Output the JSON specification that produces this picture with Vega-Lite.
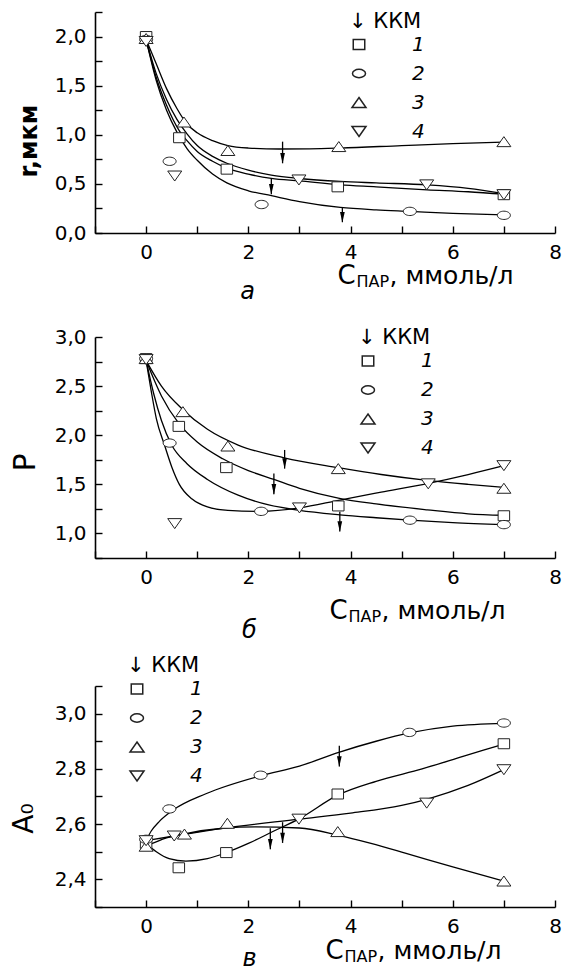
{
  "$schema": "https://vega.github.io/schema/vega-lite/v6.json",
  "padding": {"left": 10, "top": 10, "right": 5, "bottom": 0},
  "datasets": {
    "pts": [
      {"p":"a","s":"1","x":0,"y":2.0},{"p":"a","s":"1","x":0.65,"y":0.97},{"p":"a","s":"1","x":1.58,"y":0.65},{"p":"a","s":"1","x":3.75,"y":0.47},{"p":"a","s":"1","x":7,"y":0.39},
      {"p":"a","s":"2","x":0,"y":1.97},{"p":"a","s":"2","x":0.46,"y":0.73},{"p":"a","s":"2","x":2.26,"y":0.29},{"p":"a","s":"2","x":5.16,"y":0.22},{"p":"a","s":"2","x":7,"y":0.18},
      {"p":"a","s":"3","x":0,"y":1.98},{"p":"a","s":"3","x":0.74,"y":1.13},{"p":"a","s":"3","x":1.6,"y":0.84},{"p":"a","s":"3","x":3.77,"y":0.88},{"p":"a","s":"3","x":7,"y":0.93},
      {"p":"a","s":"4","x":0,"y":1.95},{"p":"a","s":"4","x":0.56,"y":0.58},{"p":"a","s":"4","x":2.99,"y":0.54},{"p":"a","s":"4","x":5.49,"y":0.49},{"p":"a","s":"4","x":7,"y":0.39},
      {"p":"b","s":"1","x":0,"y":2.78},{"p":"b","s":"1","x":0.64,"y":2.09},{"p":"b","s":"1","x":1.57,"y":1.67},{"p":"b","s":"1","x":3.76,"y":1.28},{"p":"b","s":"1","x":7,"y":1.18},
      {"p":"b","s":"2","x":0,"y":2.78},{"p":"b","s":"2","x":0.46,"y":1.92},{"p":"b","s":"2","x":2.25,"y":1.225},{"p":"b","s":"2","x":5.16,"y":1.135},{"p":"b","s":"2","x":7,"y":1.09},
      {"p":"b","s":"3","x":0,"y":2.78},{"p":"b","s":"3","x":0.72,"y":2.24},{"p":"b","s":"3","x":1.6,"y":1.89},{"p":"b","s":"3","x":3.76,"y":1.66},{"p":"b","s":"3","x":7,"y":1.46},
      {"p":"b","s":"4","x":0,"y":2.77},{"p":"b","s":"4","x":0.56,"y":1.1},{"p":"b","s":"4","x":3.0,"y":1.26},{"p":"b","s":"4","x":5.52,"y":1.505},{"p":"b","s":"4","x":7,"y":1.69},
      {"p":"c","s":"1","x":0,"y":2.53},{"p":"c","s":"1","x":0.64,"y":2.442},{"p":"c","s":"1","x":1.57,"y":2.497},{"p":"c","s":"1","x":3.75,"y":2.709},{"p":"c","s":"1","x":7,"y":2.891},
      {"p":"c","s":"2","x":0,"y":2.545},{"p":"c","s":"2","x":0.455,"y":2.655},{"p":"c","s":"2","x":2.24,"y":2.777},{"p":"c","s":"2","x":5.15,"y":2.932},{"p":"c","s":"2","x":7,"y":2.966},
      {"p":"c","s":"3","x":0,"y":2.52},{"p":"c","s":"3","x":0.75,"y":2.564},{"p":"c","s":"3","x":1.59,"y":2.603},{"p":"c","s":"3","x":3.75,"y":2.573},{"p":"c","s":"3","x":7,"y":2.394},
      {"p":"c","s":"4","x":0,"y":2.54},{"p":"c","s":"4","x":0.55,"y":2.557},{"p":"c","s":"4","x":2.99,"y":2.618},{"p":"c","s":"4","x":5.49,"y":2.676},{"p":"c","s":"4","x":7,"y":2.797}
    ],
    "fit": [
      {"p":"a","s":"3","x":0,"y":1.97},{"p":"a","s":"3","x":0.2,"y":1.72},{"p":"a","s":"3","x":0.4,"y":1.47},{"p":"a","s":"3","x":0.6,"y":1.27},{"p":"a","s":"3","x":0.8,"y":1.11},{"p":"a","s":"3","x":1.0,"y":1.02},{"p":"a","s":"3","x":1.3,"y":0.94},{"p":"a","s":"3","x":1.6,"y":0.89},{"p":"a","s":"3","x":2.0,"y":0.865},{"p":"a","s":"3","x":2.6,"y":0.855},{"p":"a","s":"3","x":3.2,"y":0.857},{"p":"a","s":"3","x":3.8,"y":0.865},{"p":"a","s":"3","x":5.0,"y":0.89},{"p":"a","s":"3","x":6.0,"y":0.91},{"p":"a","s":"3","x":7.0,"y":0.925},
      {"p":"a","s":"4","x":0,"y":1.97},{"p":"a","s":"4","x":0.2,"y":1.62},{"p":"a","s":"4","x":0.4,"y":1.36},{"p":"a","s":"4","x":0.6,"y":1.16},{"p":"a","s":"4","x":0.8,"y":1.01},{"p":"a","s":"4","x":1.0,"y":0.89},{"p":"a","s":"4","x":1.3,"y":0.78},{"p":"a","s":"4","x":1.58,"y":0.71},{"p":"a","s":"4","x":2.0,"y":0.64},{"p":"a","s":"4","x":2.45,"y":0.59},{"p":"a","s":"4","x":3.0,"y":0.555},{"p":"a","s":"4","x":3.8,"y":0.525},{"p":"a","s":"4","x":4.5,"y":0.51},{"p":"a","s":"4","x":5.5,"y":0.49},{"p":"a","s":"4","x":6.3,"y":0.455},{"p":"a","s":"4","x":7.0,"y":0.4},
      {"p":"a","s":"1","x":0,"y":1.97},{"p":"a","s":"1","x":0.2,"y":1.58},{"p":"a","s":"1","x":0.4,"y":1.3},{"p":"a","s":"1","x":0.65,"y":1.04},{"p":"a","s":"1","x":0.8,"y":0.94},{"p":"a","s":"1","x":1.0,"y":0.83},{"p":"a","s":"1","x":1.3,"y":0.73},{"p":"a","s":"1","x":1.58,"y":0.66},{"p":"a","s":"1","x":2.0,"y":0.6},{"p":"a","s":"1","x":2.45,"y":0.556},{"p":"a","s":"1","x":3.0,"y":0.53},{"p":"a","s":"1","x":3.8,"y":0.49},{"p":"a","s":"1","x":4.5,"y":0.47},{"p":"a","s":"1","x":5.5,"y":0.44},{"p":"a","s":"1","x":6.3,"y":0.42},{"p":"a","s":"1","x":7.0,"y":0.395},
      {"p":"a","s":"2","x":0,"y":1.97},{"p":"a","s":"2","x":0.2,"y":1.55},{"p":"a","s":"2","x":0.4,"y":1.25},{"p":"a","s":"2","x":0.6,"y":1.03},{"p":"a","s":"2","x":0.8,"y":0.86},{"p":"a","s":"2","x":1.0,"y":0.74},{"p":"a","s":"2","x":1.3,"y":0.6},{"p":"a","s":"2","x":1.58,"y":0.51},{"p":"a","s":"2","x":2.0,"y":0.43},{"p":"a","s":"2","x":2.45,"y":0.38},{"p":"a","s":"2","x":3.0,"y":0.32},{"p":"a","s":"2","x":3.8,"y":0.26},{"p":"a","s":"2","x":4.5,"y":0.235},{"p":"a","s":"2","x":5.16,"y":0.22},{"p":"a","s":"2","x":6.0,"y":0.2},{"p":"a","s":"2","x":7.0,"y":0.185},
      {"p":"b","s":"3","x":0,"y":2.76},{"p":"b","s":"3","x":0.3,"y":2.5},{"p":"b","s":"3","x":0.72,"y":2.26},{"p":"b","s":"3","x":1.2,"y":2.06},{"p":"b","s":"3","x":1.8,"y":1.9},{"p":"b","s":"3","x":2.7,"y":1.77},{"p":"b","s":"3","x":3.76,"y":1.67},{"p":"b","s":"3","x":4.6,"y":1.6},{"p":"b","s":"3","x":5.5,"y":1.54},{"p":"b","s":"3","x":6.3,"y":1.5},{"p":"b","s":"3","x":7.0,"y":1.47},
      {"p":"b","s":"1","x":0,"y":2.76},{"p":"b","s":"1","x":0.3,"y":2.4},{"p":"b","s":"1","x":0.64,"y":2.12},{"p":"b","s":"1","x":1.0,"y":1.93},{"p":"b","s":"1","x":1.5,"y":1.76},{"p":"b","s":"1","x":2.0,"y":1.64},{"p":"b","s":"1","x":2.5,"y":1.55},{"p":"b","s":"1","x":3.0,"y":1.46},{"p":"b","s":"1","x":3.76,"y":1.36},{"p":"b","s":"1","x":4.5,"y":1.3},{"p":"b","s":"1","x":5.5,"y":1.24},{"p":"b","s":"1","x":6.3,"y":1.2},{"p":"b","s":"1","x":7.0,"y":1.185},
      {"p":"b","s":"2","x":0,"y":2.76},{"p":"b","s":"2","x":0.15,"y":2.42},{"p":"b","s":"2","x":0.3,"y":2.15},{"p":"b","s":"2","x":0.5,"y":1.9},{"p":"b","s":"2","x":0.8,"y":1.71},{"p":"b","s":"2","x":1.2,"y":1.55},{"p":"b","s":"2","x":1.8,"y":1.39},{"p":"b","s":"2","x":2.4,"y":1.29},{"p":"b","s":"2","x":3.0,"y":1.235},{"p":"b","s":"2","x":3.79,"y":1.19},{"p":"b","s":"2","x":4.5,"y":1.16},{"p":"b","s":"2","x":5.16,"y":1.135},{"p":"b","s":"2","x":6.0,"y":1.11},{"p":"b","s":"2","x":7.0,"y":1.09},
      {"p":"b","s":"4","x":0,"y":2.76},{"p":"b","s":"4","x":0.1,"y":2.45},{"p":"b","s":"4","x":0.2,"y":2.17},{"p":"b","s":"4","x":0.36,"y":1.9},{"p":"b","s":"4","x":0.5,"y":1.68},{"p":"b","s":"4","x":0.65,"y":1.5},{"p":"b","s":"4","x":0.9,"y":1.35},{"p":"b","s":"4","x":1.2,"y":1.27},{"p":"b","s":"4","x":1.6,"y":1.235},{"p":"b","s":"4","x":2.25,"y":1.225},{"p":"b","s":"4","x":3.0,"y":1.26},{"p":"b","s":"4","x":3.79,"y":1.34},{"p":"b","s":"4","x":4.6,"y":1.42},{"p":"b","s":"4","x":5.52,"y":1.51},{"p":"b","s":"4","x":6.3,"y":1.6},{"p":"b","s":"4","x":7.0,"y":1.69},
      {"p":"c","s":"1","x":0,"y":2.53},{"p":"c","s":"1","x":0.2,"y":2.5},{"p":"c","s":"1","x":0.45,"y":2.475},{"p":"c","s":"1","x":0.78,"y":2.466},{"p":"c","s":"1","x":1.2,"y":2.475},{"p":"c","s":"1","x":1.57,"y":2.497},{"p":"c","s":"1","x":2.0,"y":2.53},{"p":"c","s":"1","x":2.5,"y":2.575},{"p":"c","s":"1","x":3.0,"y":2.62},{"p":"c","s":"1","x":3.75,"y":2.705},{"p":"c","s":"1","x":4.5,"y":2.755},{"p":"c","s":"1","x":5.4,"y":2.8},{"p":"c","s":"1","x":6.2,"y":2.845},{"p":"c","s":"1","x":7.0,"y":2.89},
      {"p":"c","s":"2","x":0,"y":2.54},{"p":"c","s":"2","x":0.1,"y":2.575},{"p":"c","s":"2","x":0.26,"y":2.61},{"p":"c","s":"2","x":0.52,"y":2.65},{"p":"c","s":"2","x":1.17,"y":2.71},{"p":"c","s":"2","x":2.24,"y":2.775},{"p":"c","s":"2","x":3.0,"y":2.81},{"p":"c","s":"2","x":3.77,"y":2.86},{"p":"c","s":"2","x":4.5,"y":2.9},{"p":"c","s":"2","x":5.15,"y":2.93},{"p":"c","s":"2","x":6.0,"y":2.955},{"p":"c","s":"2","x":7.0,"y":2.965},
      {"p":"c","s":"3","x":0,"y":2.52},{"p":"c","s":"3","x":0.4,"y":2.55},{"p":"c","s":"3","x":0.75,"y":2.565},{"p":"c","s":"3","x":1.5,"y":2.585},{"p":"c","s":"3","x":2.14,"y":2.59},{"p":"c","s":"3","x":3.0,"y":2.586},{"p":"c","s":"3","x":3.75,"y":2.56},{"p":"c","s":"3","x":4.4,"y":2.53},{"p":"c","s":"3","x":5.07,"y":2.495},{"p":"c","s":"3","x":6.0,"y":2.445},{"p":"c","s":"3","x":7.0,"y":2.394},
      {"p":"c","s":"4","x":0,"y":2.54},{"p":"c","s":"4","x":0.55,"y":2.557},{"p":"c","s":"4","x":1.5,"y":2.585},{"p":"c","s":"4","x":2.99,"y":2.618},{"p":"c","s":"4","x":4.0,"y":2.64},{"p":"c","s":"4","x":5.0,"y":2.668},{"p":"c","s":"4","x":5.49,"y":2.69},{"p":"c","s":"4","x":6.3,"y":2.74},{"p":"c","s":"4","x":7.0,"y":2.797}
    ],
    "kkm": [
      {"p":"a","x":2.67,"y":0.93,"y2":0.71},{"p":"a","x":2.45,"y":0.556,"y2":0.394},{"p":"a","x":3.84,"y":0.254,"y2":0.11},
      {"p":"b","x":2.71,"y":1.85,"y2":1.66},{"p":"b","x":2.5,"y":1.61,"y2":1.4},{"p":"b","x":3.79,"y":1.22,"y2":1.02},
      {"p":"c","x":2.43,"y":2.585,"y2":2.509},{"p":"c","x":2.67,"y":2.607,"y2":2.532},{"p":"c","x":3.78,"y":2.884,"y2":2.809}
    ]
  },
  "resolve": {"scale": {"shape": "independent"}, "legend": {"shape": "independent"}},
  "vconcat": [
    {
      "spacing": 104,
      "bounds": "flush",
      "resolve": {"scale": {"shape": "independent"}, "legend": {"shape": "independent"}},
      "vconcat": [
        {
          "width": 460, "height": 221,
          "resolve": {"axis": {"x": "independent"}},
          "layer": [
            {
              "data": {"name": "fit"}, "transform": [{"filter": "datum.p == 'a'"}],
              "mark": {"type": "line", "interpolate": "monotone", "color": "black", "strokeWidth": 1.3},
              "encoding": {
                "x": {"field": "x", "type": "quantitative", "scale": {"domain": [-1, 8], "nice": false},
                  "axis": {"orient": "bottom", "values": [-1,0,1,2,3,4,5,6,7,8], "format": "d", "labelFlush": false, "labelExpr": "datum.value >= 0 && datum.value % 2 == 0 ? datum.label : ''", "title": "C", "titleFontSize": 26, "titleX": 242, "titleY": 50.5, "titleAlign": "left", "titleBaseline": "alphabetic"}},
                "y": {"field": "y", "type": "quantitative", "scale": {"domain": [0, 2.25], "nice": false, "zero": false},
                  "axis": {"values": [0,0.25,0.5,0.75,1,1.25,1.5,1.75,2,2.25], "labelExpr": "round(datum.value*100) % 50 == 0 ? replace(format(datum.value, '.1f'), '.', ',') : ''", "title": "r,мкм", "titleFontWeight": "bold", "titleFontSize": 24, "titleX": -59, "titleY": 128.5, "titleBaseline": "alphabetic"}},
                "detail": {"field": "s"}
              }
            },
            {
              "data": {"name": "pts"}, "transform": [{"filter": "datum.p == 'a'"}],
              "mark": {"type": "point", "filled": true, "fill": "white", "stroke": "#222", "strokeWidth": 1, "size": 100, "opacity": 1},
              "encoding": {
                "x": {"field": "x", "type": "quantitative", "scale": {"domain": [-1, 8], "nice": false},
                  "axis": {"orient": "bottom", "domain": false, "ticks": false, "labels": false, "title": "ПАР", "titleFontSize": 16, "titleX": 261, "titleY": 53.5, "titleAlign": "left", "titleBaseline": "alphabetic"}},
                "y": {"field": "y", "type": "quantitative", "scale": {"domain": [0, 2.25], "nice": false, "zero": false},
                  "axis": {"values": [0,0.25,0.5,0.75,1,1.25,1.5,1.75,2,2.25], "labelExpr": "round(datum.value*100) % 50 == 0 ? replace(format(datum.value, '.1f'), '.', ',') : ''", "title": "r,мкм", "titleFontWeight": "bold", "titleFontSize": 24, "titleX": -59, "titleY": 128.5, "titleBaseline": "alphabetic"}},
                "shape": {"field": "s", "type": "nominal",
                  "scale": {"domain": ["1","2","3","4"], "range": ["M-1.15,-1H1.15V1H-1.15Z", "M1.3,0A1.3,0.83,0,1,1,-1.3,0A1.3,0.83,0,1,1,1.3,0Z", "M0,-1L1.4,1L-1.4,1Z", "M0,1L1.4,-1L-1.4,-1Z"]},
                  "legend": {"legendX": 254, "legendY": -1.5, "title": "↓ ККМ",
                    "encode": {"symbols": {"shape": {"value": {"expr": "datum.value == '1' ? 'M-6,0H-1.75M1.75,0H6M-1.15,-1H1.15V1H-1.15Z' : datum.value == '2' ? 'M-6,0H-1.9M1.9,0H6M1.3,0A1.3,0.83,0,1,1,-1.3,0A1.3,0.83,0,1,1,1.3,0Z' : datum.value == '3' ? 'M-6,0H-1.9M1.9,0H6M0,-1L1.4,1L-1.4,1Z' : 'M-6,0H-1.9M1.9,0H6M0,1L1.4,-1L-1.4,-1Z'"}}}}}}
              }
            },
            {
              "data": {"name": "kkm"}, "transform": [{"filter": "datum.p == 'a'"}],
              "mark": {"type": "rule", "color": "black", "strokeWidth": 1.3},
              "encoding": {
                "x": {"field": "x", "type": "quantitative", "scale": {"domain": [-1, 8], "nice": false},
                  "axis": {"orient": "bottom", "domain": false, "ticks": false, "labels": false, "title": ",  ммоль/л", "titleFontSize": 25, "titleX": 294, "titleY": 50.5, "titleAlign": "left", "titleBaseline": "alphabetic"}},
                "y": {"field": "y", "type": "quantitative", "scale": {"domain": [0, 2.25], "nice": false, "zero": false},
                  "axis": {"values": [0,0.25,0.5,0.75,1,1.25,1.5,1.75,2,2.25], "labelExpr": "round(datum.value*100) % 50 == 0 ? replace(format(datum.value, '.1f'), '.', ',') : ''", "title": "r,мкм", "titleFontWeight": "bold", "titleFontSize": 24, "titleX": -59, "titleY": 128.5, "titleBaseline": "alphabetic"}},
                "y2": {"field": "y2"}
              }
            },
            {
              "data": {"name": "kkm"}, "transform": [{"filter": "datum.p == 'a'"}],
              "mark": {"type": "point", "shape": "M-0.45,-1L0.45,-1L0,1Z", "filled": true, "color": "black", "size": 110, "yOffset": -5, "opacity": 1},
              "encoding": {
                "x": {"field": "x", "type": "quantitative", "scale": {"domain": [-1, 8], "nice": false},
                  "axis": {"orient": "bottom", "domain": false, "ticks": false, "labels": false, "title": "а", "titleFontSize": 24, "titleFontStyle": "italic", "titleX": 152, "titleY": 65, "titleAlign": "center", "titleBaseline": "alphabetic"}},
                "y": {"field": "y2", "type": "quantitative", "scale": {"domain": [0, 2.25], "nice": false, "zero": false},
                  "axis": {"values": [0,0.25,0.5,0.75,1,1.25,1.5,1.75,2,2.25], "labelExpr": "round(datum.value*100) % 50 == 0 ? replace(format(datum.value, '.1f'), '.', ',') : ''", "title": "r,мкм", "titleFontWeight": "bold", "titleFontSize": 24, "titleX": -59, "titleY": 128.5, "titleBaseline": "alphabetic"}}
              }
            }
          ]
        },
        {
          "width": 460, "height": 221,
          "resolve": {"axis": {"x": "independent"}},
          "layer": [
            {
              "data": {"name": "fit"}, "transform": [{"filter": "datum.p == 'b'"}],
              "mark": {"type": "line", "interpolate": "monotone", "color": "black", "strokeWidth": 1.3},
              "encoding": {
                "x": {"field": "x", "type": "quantitative", "scale": {"domain": [-1, 8], "nice": false},
                  "axis": {"orient": "bottom", "values": [-1,0,1,2,3,4,5,6,7,8], "format": "d", "labelFlush": false, "labelExpr": "datum.value >= 0 && datum.value % 2 == 0 ? datum.label : ''", "title": "C", "titleFontSize": 26, "titleX": 234, "titleY": 60, "titleAlign": "left", "titleBaseline": "alphabetic"}},
                "y": {"field": "y", "type": "quantitative", "scale": {"domain": [0.75, 3.0], "nice": false, "zero": false},
                  "axis": {"values": [0.75,1,1.25,1.5,1.75,2,2.25,2.5,2.75,3], "labelExpr": "round(datum.value*100) % 50 == 0 ? replace(format(datum.value, '.1f'), '.', ',') : ''", "title": "P", "titleFontSize": 30, "titleX": -61, "titleY": 125, "titleBaseline": "alphabetic"}},
                "detail": {"field": "s"}
              }
            },
            {
              "data": {"name": "pts"}, "transform": [{"filter": "datum.p == 'b'"}],
              "mark": {"type": "point", "filled": true, "fill": "white", "stroke": "#222", "strokeWidth": 1, "size": 100, "opacity": 1},
              "encoding": {
                "x": {"field": "x", "type": "quantitative", "scale": {"domain": [-1, 8], "nice": false},
                  "axis": {"orient": "bottom", "domain": false, "ticks": false, "labels": false, "title": "ПАР", "titleFontSize": 16, "titleX": 253, "titleY": 63, "titleAlign": "left", "titleBaseline": "alphabetic"}},
                "y": {"field": "y", "type": "quantitative", "scale": {"domain": [0.75, 3.0], "nice": false, "zero": false},
                  "axis": {"values": [0.75,1,1.25,1.5,1.75,2,2.25,2.5,2.75,3], "labelExpr": "round(datum.value*100) % 50 == 0 ? replace(format(datum.value, '.1f'), '.', ',') : ''", "title": "P", "titleFontSize": 30, "titleX": -61, "titleY": 125, "titleBaseline": "alphabetic"}},
                "shape": {"field": "s", "type": "nominal",
                  "scale": {"domain": ["1","2","3","4"], "range": ["M-1.15,-1H1.15V1H-1.15Z", "M1.3,0A1.3,0.83,0,1,1,-1.3,0A1.3,0.83,0,1,1,1.3,0Z", "M0,-1L1.4,1L-1.4,1Z", "M0,1L1.4,-1L-1.4,-1Z"]},
                  "legend": {"legendX": 263, "legendY": -10, "title": "↓ ККМ",
                    "encode": {"symbols": {"shape": {"value": {"expr": "datum.value == '1' ? 'M-6,0H-1.75M1.75,0H6M-1.15,-1H1.15V1H-1.15Z' : datum.value == '2' ? 'M-6,0H-1.9M1.9,0H6M1.3,0A1.3,0.83,0,1,1,-1.3,0A1.3,0.83,0,1,1,1.3,0Z' : datum.value == '3' ? 'M-6,0H-1.9M1.9,0H6M0,-1L1.4,1L-1.4,1Z' : 'M-6,0H-1.9M1.9,0H6M0,1L1.4,-1L-1.4,-1Z'"}}}}}}
              }
            },
            {
              "data": {"name": "kkm"}, "transform": [{"filter": "datum.p == 'b'"}],
              "mark": {"type": "rule", "color": "black", "strokeWidth": 1.3},
              "encoding": {
                "x": {"field": "x", "type": "quantitative", "scale": {"domain": [-1, 8], "nice": false},
                  "axis": {"orient": "bottom", "domain": false, "ticks": false, "labels": false, "title": ",  ммоль/л", "titleFontSize": 25, "titleX": 286, "titleY": 60, "titleAlign": "left", "titleBaseline": "alphabetic"}},
                "y": {"field": "y", "type": "quantitative", "scale": {"domain": [0.75, 3.0], "nice": false, "zero": false},
                  "axis": {"values": [0.75,1,1.25,1.5,1.75,2,2.25,2.5,2.75,3], "labelExpr": "round(datum.value*100) % 50 == 0 ? replace(format(datum.value, '.1f'), '.', ',') : ''", "title": "P", "titleFontSize": 30, "titleX": -61, "titleY": 125, "titleBaseline": "alphabetic"}},
                "y2": {"field": "y2"}
              }
            },
            {
              "data": {"name": "kkm"}, "transform": [{"filter": "datum.p == 'b'"}],
              "mark": {"type": "point", "shape": "M-0.45,-1L0.45,-1L0,1Z", "filled": true, "color": "black", "size": 110, "yOffset": -5, "opacity": 1},
              "encoding": {
                "x": {"field": "x", "type": "quantitative", "scale": {"domain": [-1, 8], "nice": false},
                  "axis": {"orient": "bottom", "domain": false, "ticks": false, "labels": false, "title": "б", "titleFontSize": 24, "titleFontStyle": "italic", "titleX": 154, "titleY": 79, "titleAlign": "center", "titleBaseline": "alphabetic"}},
                "y": {"field": "y2", "type": "quantitative", "scale": {"domain": [0.75, 3.0], "nice": false, "zero": false},
                  "axis": {"values": [0.75,1,1.25,1.5,1.75,2,2.25,2.5,2.75,3], "labelExpr": "round(datum.value*100) % 50 == 0 ? replace(format(datum.value, '.1f'), '.', ',') : ''", "title": "P", "titleFontSize": 30, "titleX": -61, "titleY": 125, "titleBaseline": "alphabetic"}}
              }
            }
          ]
        }
      ]
    },
    {
      "width": 460, "height": 221,
      "resolve": {"axis": {"x": "independent"}},
      "layer": [
        {
          "data": {"name": "fit"}, "transform": [{"filter": "datum.p == 'c'"}],
          "mark": {"type": "line", "interpolate": "monotone", "color": "black", "strokeWidth": 1.3},
          "encoding": {
            "x": {"field": "x", "type": "quantitative", "scale": {"domain": [-1, 8], "nice": false},
              "axis": {"orient": "bottom", "values": [-1,0,1,2,3,4,5,6,7,8], "format": "d", "labelFlush": false, "labelExpr": "datum.value >= 0 && datum.value % 2 == 0 ? datum.label : ''", "title": "C", "titleFontSize": 26, "titleX": 230, "titleY": 51.5, "titleAlign": "left", "titleBaseline": "alphabetic"}},
            "y": {"field": "y", "type": "quantitative", "scale": {"domain": [2.3, 3.1], "nice": false, "zero": false},
              "axis": {"values": [2.3,2.4,2.5,2.6,2.7,2.8,2.9,3.0,3.1], "labelExpr": "round(datum.value*10) % 2 == 0 ? replace(format(datum.value, '.1f'), '.', ',') : ''", "title": "A₀", "titleFontSize": 28, "titleX": -63, "titleY": 132, "titleBaseline": "alphabetic"}},
            "detail": {"field": "s"}
          }
        },
        {
          "data": {"name": "pts"}, "transform": [{"filter": "datum.p == 'c'"}],
          "mark": {"type": "point", "filled": true, "fill": "white", "stroke": "#222", "strokeWidth": 1, "size": 100, "opacity": 1},
          "encoding": {
            "x": {"field": "x", "type": "quantitative", "scale": {"domain": [-1, 8], "nice": false},
              "axis": {"orient": "bottom", "domain": false, "ticks": false, "labels": false, "title": "ПАР", "titleFontSize": 16, "titleX": 249, "titleY": 54.5, "titleAlign": "left", "titleBaseline": "alphabetic"}},
            "y": {"field": "y", "type": "quantitative", "scale": {"domain": [2.3, 3.1], "nice": false, "zero": false},
              "axis": {"values": [2.3,2.4,2.5,2.6,2.7,2.8,2.9,3.0,3.1], "labelExpr": "round(datum.value*10) % 2 == 0 ? replace(format(datum.value, '.1f'), '.', ',') : ''", "title": "A₀", "titleFontSize": 28, "titleX": -63, "titleY": 132, "titleBaseline": "alphabetic"}},
            "shape": {"field": "s", "type": "nominal",
              "scale": {"domain": ["1","2","3","4"], "range": ["M-1.15,-1H1.15V1H-1.15Z", "M1.3,0A1.3,0.83,0,1,1,-1.3,0A1.3,0.83,0,1,1,1.3,0Z", "M0,-1L1.4,1L-1.4,1Z", "M0,1L1.4,-1L-1.4,-1Z"]},
              "legend": {"legendX": 32, "legendY": -31, "title": "↓ ККМ",
                "encode": {"symbols": {"shape": {"value": {"expr": "datum.value == '1' ? 'M-6,0H-1.75M1.75,0H6M-1.15,-1H1.15V1H-1.15Z' : datum.value == '2' ? 'M-6,0H-1.9M1.9,0H6M1.3,0A1.3,0.83,0,1,1,-1.3,0A1.3,0.83,0,1,1,1.3,0Z' : datum.value == '3' ? 'M-6,0H-1.9M1.9,0H6M0,-1L1.4,1L-1.4,1Z' : 'M-6,0H-1.9M1.9,0H6M0,1L1.4,-1L-1.4,-1Z'"}}}}}}
          }
        },
        {
          "data": {"name": "kkm"}, "transform": [{"filter": "datum.p == 'c'"}],
          "mark": {"type": "rule", "color": "black", "strokeWidth": 1.3},
          "encoding": {
            "x": {"field": "x", "type": "quantitative", "scale": {"domain": [-1, 8], "nice": false},
              "axis": {"orient": "bottom", "domain": false, "ticks": false, "labels": false, "title": ",  ммоль/л", "titleFontSize": 25, "titleX": 282, "titleY": 51.5, "titleAlign": "left", "titleBaseline": "alphabetic"}},
            "y": {"field": "y", "type": "quantitative", "scale": {"domain": [2.3, 3.1], "nice": false, "zero": false},
              "axis": {"values": [2.3,2.4,2.5,2.6,2.7,2.8,2.9,3.0,3.1], "labelExpr": "round(datum.value*10) % 2 == 0 ? replace(format(datum.value, '.1f'), '.', ',') : ''", "title": "A₀", "titleFontSize": 28, "titleX": -63, "titleY": 132, "titleBaseline": "alphabetic"}},
            "y2": {"field": "y2"}
          }
        },
        {
          "data": {"name": "kkm"}, "transform": [{"filter": "datum.p == 'c'"}],
          "mark": {"type": "point", "shape": "M-0.45,-1L0.45,-1L0,1Z", "filled": true, "color": "black", "size": 110, "yOffset": -5, "opacity": 1},
          "encoding": {
            "x": {"field": "x", "type": "quantitative", "scale": {"domain": [-1, 8], "nice": false},
              "axis": {"orient": "bottom", "domain": false, "ticks": false, "labels": false, "title": "в", "titleFontSize": 24, "titleFontStyle": "italic", "titleX": 154, "titleY": 58.5, "titleAlign": "center", "titleBaseline": "alphabetic"}},
            "y": {"field": "y2", "type": "quantitative", "scale": {"domain": [2.3, 3.1], "nice": false, "zero": false},
              "axis": {"values": [2.3,2.4,2.5,2.6,2.7,2.8,2.9,3.0,3.1], "labelExpr": "round(datum.value*10) % 2 == 0 ? replace(format(datum.value, '.1f'), '.', ',') : ''", "title": "A₀", "titleFontSize": 28, "titleX": -63, "titleY": 132, "titleBaseline": "alphabetic"}}
          }
        }
      ]
    }
  ],
  "spacing": 13,
  "bounds": "full",
  "config": {
    "font": "DejaVu Sans",
    "view": {"stroke": null},
    "axis": {"domainColor": "black", "domainWidth": 1.6, "tickColor": "black", "tickWidth": 1.4, "tickSize": -7, "labelFontSize": 20, "labelColor": "black", "labelPadding": 16, "grid": false, "titleColor": "black", "titleFontWeight": "normal"},
    "legend": {"orient": "none", "padding": 0, "titleFontSize": 21, "titleFontWeight": "normal", "titleColor": "black", "titlePadding": 3, "labelFontSize": 20, "labelFontStyle": "italic", "labelColor": "black", "labelOffset": 43, "rowPadding": 9}
  }
}
